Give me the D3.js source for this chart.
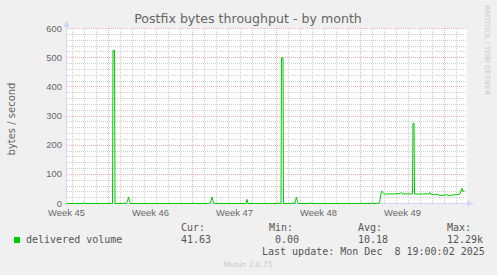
<!DOCTYPE html>
<html>
<head>
<meta charset="utf-8">
<script src="https://cdn.jsdelivr.net/npm/d3@7"></script>
<style>
  body { margin: 0; background: #f0f0f0; }
  svg { display: block; font-family: "DejaVu Sans", sans-serif; }
  .tick text { fill: #666; font-size: 9.4px; }
  .mono { font-family: "DejaVu Sans Mono", monospace; font-size: 10px; fill: #555; }
</style>
</head>
<body>
<script>
// delivered volume, bytes / second (2h samples, zeros between events)
const DELIVERED = [
  ["2025-11-05T14:00", 0], ["2025-11-06T22:00", 0], ["2025-11-07T00:00", 3], ["2025-11-07T02:00", 0],
  ["2025-11-09T02:00", 0], ["2025-11-09T04:00", 2], ["2025-11-09T06:00", 0],
  ["2025-11-09T09:00", 0], ["2025-11-09T10:00", 525], ["2025-11-09T13:00", 525], ["2025-11-09T14:00", 0],
  ["2025-11-10T06:00", 0], ["2025-11-10T08:00", 2], ["2025-11-10T10:00", 0],
  ["2025-11-10T13:00", 0], ["2025-11-10T15:00", 8], ["2025-11-10T17:00", 22], ["2025-11-10T19:00", 9], ["2025-11-10T21:00", 0],
  ["2025-11-16T02:00", 0], ["2025-11-16T04:00", 2], ["2025-11-16T06:00", 0],
  ["2025-11-17T09:00", 0], ["2025-11-17T11:00", 3], ["2025-11-17T13:00", 2], ["2025-11-17T14:00", 10], ["2025-11-17T16:00", 22], ["2025-11-17T18:00", 8], ["2025-11-17T20:00", 0],
  ["2025-11-20T12:00", 0], ["2025-11-20T14:00", 14], ["2025-11-20T16:00", 0],
  ["2025-11-23T02:00", 0], ["2025-11-23T04:00", 2], ["2025-11-23T06:00", 0],
  ["2025-11-23T10:00", 0], ["2025-11-23T11:00", 500], ["2025-11-23T14:00", 500], ["2025-11-23T15:00", 0],
  ["2025-11-24T08:00", 0], ["2025-11-24T10:00", 3], ["2025-11-24T12:00", 0], ["2025-11-24T14:00", 0],
  ["2025-11-24T15:00", 10], ["2025-11-24T17:00", 22], ["2025-11-24T19:00", 6], ["2025-11-24T21:00", 0],
  ["2025-11-25T18:00", 0], ["2025-11-25T20:00", 3], ["2025-11-25T22:00", 0],
  ["2025-11-30T02:00", 0], ["2025-11-30T04:00", 2], ["2025-11-30T06:00", 0],
  ["2025-11-30T14:00", 0], ["2025-11-30T16:00", 2], ["2025-11-30T18:00", 0],
  ["2025-11-30T22:00", 0], ["2025-12-01T00:00", 2], ["2025-12-01T02:00", 0],
  ["2025-12-01T08:00", 0], ["2025-12-01T10:00", 2], ["2025-12-01T12:00", 0],
  ["2025-12-01T15:00", 2], ["2025-12-01T19:00", 43], ["2025-12-01T21:00", 38], ["2025-12-01T23:00", 35], ["2025-12-02T01:00", 32],
  ["2025-12-02T12:00", 33], ["2025-12-02T22:00", 33], ["2025-12-03T08:00", 34], ["2025-12-03T10:00", 38], ["2025-12-03T12:00", 33],
  ["2025-12-04T06:00", 33], ["2025-12-04T09:00", 33], ["2025-12-04T10:00", 275], ["2025-12-04T12:00", 275], ["2025-12-04T13:00", 33],
  ["2025-12-04T22:00", 32], ["2025-12-05T06:00", 33], ["2025-12-05T18:00", 33], ["2025-12-05T20:00", 38], ["2025-12-05T22:00", 31],
  ["2025-12-06T06:00", 30], ["2025-12-06T10:00", 32], ["2025-12-06T14:00", 28], ["2025-12-06T22:00", 28],
  ["2025-12-07T04:00", 30], ["2025-12-07T10:00", 28], ["2025-12-07T18:00", 29], ["2025-12-08T04:00", 31],
  ["2025-12-08T08:00", 33], ["2025-12-08T12:00", 52], ["2025-12-08T14:00", 40], ["2025-12-08T16:00", 44], ["2025-12-08T17:00", 42]
];
const Y_TICKS = [0, 100, 200, 300, 400, 500, 600];
const WEEK_TICKS = ["2025-11-05T12:00", "2025-11-12T12:00", "2025-11-19T12:00", "2025-11-26T12:00", "2025-12-03T12:00"];
const WEEK_LABELS = ["Week 45", "Week 46", "Week 47", "Week 48", "Week 49"];
const LEGEND_HEADERS = ["Cur:", "Min:", "Avg:", "Max:"];
const LEGEND_VALUES = ["41.63", " 0.00", "10.18", "12.29k"];

const W = 497, H = 275;
const plot = { left: 67, right: 467, top: 28, bottom: 203 };
const parse = d3.utcParse("%Y-%m-%dT%H:%M");
const START = parse("2025-11-05T14:00"), END = parse("2025-12-08T22:00");

const x = d3.scaleUtc().domain([START, END]).range([plot.left, plot.right]);
const y = d3.scaleLinear().domain([0, 600]).range([plot.bottom, plot.top]);
const px = v => Math.round(v) + 0.5;

const svg = d3.select("body").append("svg")
  .attr("width", W).attr("height", H)
  .attr("viewBox", [0, 0, W, H]);

svg.append("rect").attr("width", W).attr("height", H).attr("fill", "#f0f0f0");
svg.append("rect")
  .attr("x", plot.left).attr("y", plot.top)
  .attr("width", plot.right - plot.left).attr("height", plot.bottom - plot.top)
  .attr("fill", "#fff");

// Title
svg.append("text")
  .attr("x", 248).attr("y", 23)
  .attr("text-anchor", "middle")
  .attr("fill", "#666").attr("font-size", "12.6px")
  .text("Postfix bytes throughput - by month");

svg.append("text")
  .attr("transform", "translate(15,119) rotate(-90)")
  .attr("text-anchor", "middle")
  .attr("fill", "#666").attr("font-size", "10px")
  .text("bytes / second");

svg.append("text")
  .attr("transform", "translate(485,5) rotate(90)")
  .attr("fill", "#c8c8c8").attr("font-size", "7px")
  .text("RRDTOOL / TOBI OETIKER");

// Grid
const grid = svg.append("g").attr("fill", "none").attr("stroke-width", 1).attr("stroke-dasharray", "1,1");
const minorY = d3.range(0, 601, 20).filter(v => v % 100 !== 0);
grid.selectAll(".hmin").data(minorY).enter().append("line")
  .attr("x1", plot.left).attr("x2", plot.right)
  .attr("y1", d => px(y(d))).attr("y2", d => px(y(d)))
  .attr("stroke", "#d0d0d0");
const days = d3.utcDay.range(START, END).filter(d => d.getUTCDay() !== 0);
grid.selectAll(".vmin").data(days).enter().append("line")
  .attr("y1", plot.top).attr("y2", plot.bottom)
  .attr("x1", d => px(x(d))).attr("x2", d => px(x(d)))
  .attr("stroke", "#d0d0d0");
grid.selectAll(".hmaj").data(Y_TICKS).enter().append("line")
  .attr("x1", plot.left).attr("x2", plot.right)
  .attr("y1", d => px(y(d))).attr("y2", d => px(y(d)))
  .attr("stroke", "#f2b4b4");
grid.selectAll(".vmaj").data(d3.utcSunday.range(START, END)).enter().append("line")
  .attr("y1", plot.top).attr("y2", plot.bottom)
  .attr("x1", d => px(x(d))).attr("x2", d => px(x(d)))
  .attr("stroke", "#f2b4b4");

// Axes
const axisColor = "#cfd6f8";
svg.append("line")
  .attr("x1", plot.left - 0.5).attr("x2", plot.left - 0.5)
  .attr("y1", plot.bottom + 3).attr("y2", 24)
  .attr("stroke", axisColor);
svg.append("path").attr("d", `M${plot.left - 0.5},20L${plot.left - 3.5},27L${plot.left + 2.5},27Z`).attr("fill", axisColor);

svg.append("g")
  .attr("transform", `translate(${plot.left},0)`)
  .call(d3.axisLeft(y).tickValues(Y_TICKS).tickSize(0).tickPadding(5))
  .call(g => g.select(".domain").remove());

svg.append("g")
  .attr("transform", `translate(0,${plot.bottom})`)
  .call(d3.axisBottom(x).tickValues(WEEK_TICKS.map(parse)).tickFormat((_, i) => WEEK_LABELS[i]).tickSize(0))
  .call(g => g.select(".domain").remove())
  .call(g => g.selectAll("text").attr("y", 12.5).attr("dy", 0));

// Data line
const line = d3.line()
  .x(d => x(parse(d[0])))
  .y(d => y(d[1]) + 0.5);

svg.append("line")
  .attr("x1", plot.left - 3).attr("x2", plot.right + 2)
  .attr("y1", plot.bottom + 0.5).attr("y2", plot.bottom + 0.5)
  .attr("stroke", axisColor);
svg.append("path").attr("d", `M${plot.right + 7},${plot.bottom + 0.5}L${plot.right},${plot.bottom - 2.5}L${plot.right},${plot.bottom + 3.5}Z`).attr("fill", axisColor);

svg.append("path")
  .datum(DELIVERED)
  .attr("fill", "none")
  .attr("stroke", "#00cc00")
  .attr("stroke-width", 1)
  .attr("d", line);

// Legend
svg.append("rect").attr("x", 14).attr("y", 237).attr("width", 6).attr("height", 6).attr("fill", "#00cc00");
svg.append("text").attr("class", "mono").attr("x", 26).attr("y", 243).text("delivered volume");
const colX = [181, 269, 358, 447];
svg.selectAll(".hdr").data(LEGEND_HEADERS).enter().append("text")
  .attr("class", "mono").attr("x", (_, i) => colX[i]).attr("y", 231)
  .text(d => d);
svg.selectAll(".val").data(LEGEND_VALUES).enter().append("text")
  .attr("class", "mono").attr("x", (_, i) => colX[i]).attr("y", 243)
  .attr("xml:space", "preserve").style("white-space", "pre")
  .text(d => d);
svg.append("text").attr("class", "mono").attr("x", 262).attr("y", 255)
  .style("white-space", "pre")
  .text("Last update: Mon Dec  8 19:00:02 2025");

svg.append("text")
  .attr("x", 248).attr("y", 267)
  .attr("text-anchor", "middle")
  .attr("fill", "#c8c8c8").attr("font-size", "7.5px")
  .text("Munin 2.0.75");
</script>
</body>
</html>
